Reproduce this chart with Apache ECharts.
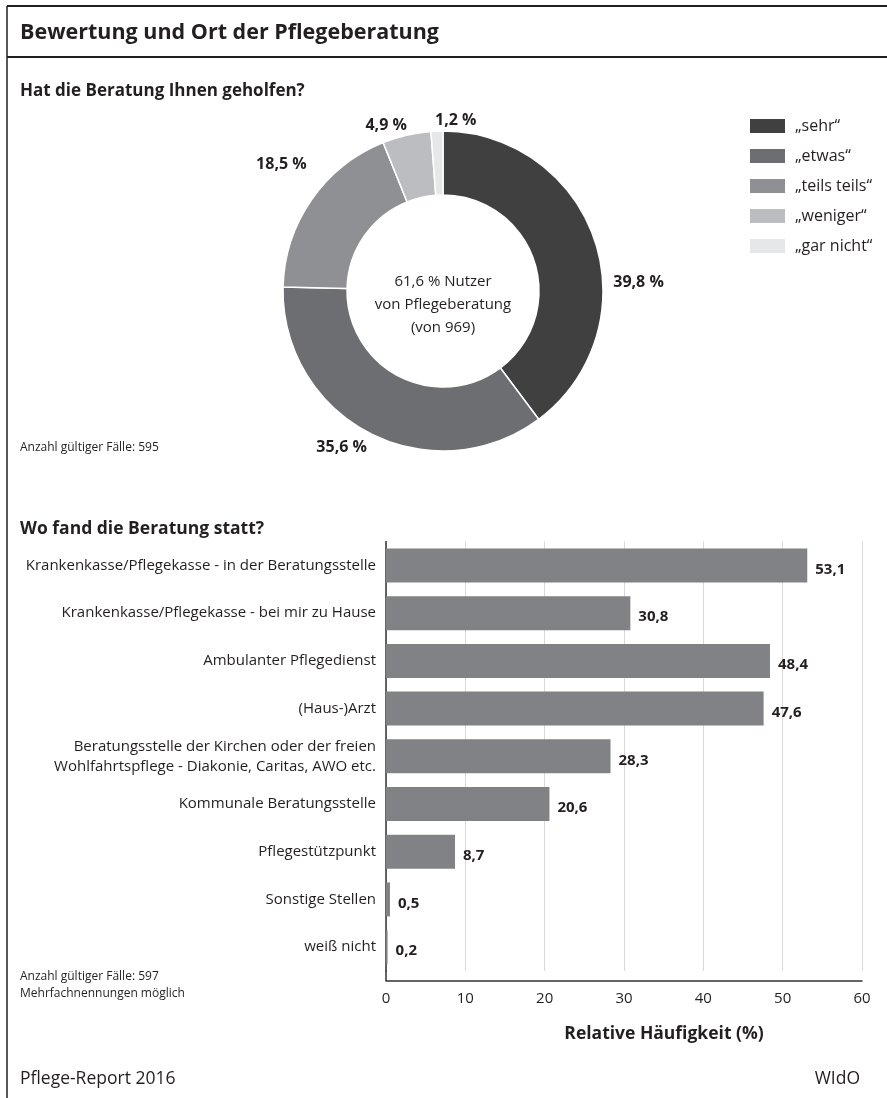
<!DOCTYPE html>
<html>
<head>
<meta charset="utf-8">
<script src="https://cdn.jsdelivr.net/npm/echarts@6/dist/echarts.min.js"></script>
<style>
html,body{margin:0;padding:0;background:#fff;}
#c{width:887px;height:1098px;}
</style>
</head>
<body>
<div id="c"></div>
<script>
// ---- data ----
const pieCategories = ['„sehr“', '„etwas“', '„teils teils“', '„weniger“', '„gar nicht“'];
const pieValues = [39.8, 35.6, 18.5, 4.9, 1.2];
const pieColors = ['#404041', '#6d6e71', '#8f9093', '#bcbdc0', '#e6e7e8'];

const barCategories = [
  'Krankenkasse/Pflegekasse - in der Beratungsstelle',
  'Krankenkasse/Pflegekasse - bei mir zu Hause',
  'Ambulanter Pflegedienst',
  '(Haus-)Arzt',
  'Beratungsstelle der Kirchen oder der freien\nWohlfahrtspflege - Diakonie, Caritas, AWO etc.',
  'Kommunale Beratungsstelle',
  'Pflegestützpunkt',
  'Sonstige Stellen',
  'weiß nicht'
];
const barValues = [53.1, 30.8, 48.4, 47.6, 28.3, 20.6, 8.7, 0.5, 0.2];
const xTicks = [0, 10, 20, 30, 40, 50, 60];

// label nudges for pie labels (styling only)
const pieLabelNudge = [[2, 46], [8, 4], [10, -29], [8, 2], [45, 1]];

const FONT = 'Open Sans';
const TXT = '#231f20';

// bar grid layout
const GRID_LEFT = 386, GRID_RIGHT = 25, GRID_TOP = 541.6, GRID_H = 429.4, AXIS_OFFSET = 10;

const chart = echarts.init(document.getElementById('c'), null, {renderer: 'canvas'});

const fmt = v => String(v).replace('.', ',');
const ttl = (text, opts, style) => Object.assign({text, padding: 0,
  textStyle: Object.assign({fontFamily: FONT, color: TXT, fontWeight: 'normal'}, style)}, opts);

chart.setOption({
  animation: false,
  textStyle: {fontFamily: FONT, color: TXT},
  title: [
    ttl('Bewertung und Ort der Pflegeberatung', {left: 20, top: 19}, {fontSize: 21.5, fontWeight: 'bold', lineHeight: 28}),
    ttl('Hat die Beratung Ihnen geholfen?', {left: 20, top: 80}, {fontSize: 17, fontWeight: 'bold', lineHeight: 22}),
    ttl('Anzahl gültiger Fälle: 595', {left: 20, top: 440}, {fontSize: 12, lineHeight: 16}),
    ttl('Wo fand die Beratung statt?', {left: 20, top: 518}, {fontSize: 17.5, fontWeight: 'bold', lineHeight: 22}),
    ttl('Anzahl gültiger Fälle: 597\nMehrfachnennungen möglich', {left: 20, top: 968}, {fontSize: 12, lineHeight: 17}),
    ttl('Pflege-Report 2016', {left: 20, top: 1068}, {fontSize: 17.5, lineHeight: 22}),
    ttl('WIdO', {right: 27, top: 1068}, {fontSize: 17.5, lineHeight: 22}),
    ttl('61,6 % Nutzer\nvon Pflegeberatung\n(von 969)', {left: 443, top: 270, textAlign: 'center'},
        {fontSize: 15, lineHeight: 23, align: 'center'})
  ],
  graphic: [
    {type: 'line', shape: {x1: 7, y1: 6, x2: 887, y2: 6}, style: {stroke: '#231f20', lineWidth: 1.8}, silent: true},
    {type: 'line', shape: {x1: 7, y1: 57, x2: 887, y2: 57}, style: {stroke: '#231f20', lineWidth: 1.8}, silent: true},
    {type: 'line', shape: {x1: 7, y1: 6, x2: 7, y2: 1098}, style: {stroke: '#231f20', lineWidth: 1.5}, silent: true},
    // y-axis line continued down to the offset x-axis line
    {type: 'line', shape: {x1: GRID_LEFT, y1: GRID_TOP + GRID_H - 1, x2: GRID_LEFT, y2: GRID_TOP + GRID_H + AXIS_OFFSET},
     style: {stroke: '#333', lineWidth: 1.5}, silent: true}
  ],
  legend: {
    orient: 'vertical', left: 748, top: 117, padding: 0,
    itemWidth: 37, itemHeight: 16, itemGap: 12,
    icon: 'rect', selectedMode: false,
    data: pieCategories,
    textStyle: {fontFamily: FONT, fontSize: 16, lineHeight: 16, color: TXT, padding: [0, 0, 0, 4]}
  },
  grid: {left: GRID_LEFT, right: GRID_RIGHT, top: GRID_TOP, height: GRID_H, containLabel: false},
  xAxis: {
    type: 'value', min: 0, max: 60, interval: 10, offset: AXIS_OFFSET,
    axisLine: {show: true, lineStyle: {color: '#333', width: 1.5}},
    axisTick: {show: false},
    splitLine: {show: true, lineStyle: {color: '#d9d9d9', width: 1}},
    axisLabel: {fontFamily: FONT, fontSize: 15, color: TXT, margin: 10,
      formatter: v => xTicks.includes(v) ? String(v) : ''},
    name: 'Relative Häufigkeit (%)', nameLocation: 'middle', nameGap: 44,
    nameTextStyle: {fontFamily: FONT, fontSize: 17.5, fontWeight: 'bold', color: TXT, padding: [0, 0, 0, 80]}
  },
  yAxis: {
    type: 'category', inverse: true, data: barCategories,
    axisLine: {show: true, lineStyle: {color: '#333', width: 1.5}},
    axisTick: {show: false},
    axisLabel: {fontFamily: FONT, fontSize: 15, color: TXT, margin: 10, lineHeight: 20, align: 'right'}
  },
  series: [
    {
      type: 'pie',
      center: [443, 291], radius: [96, 160],
      startAngle: 90, clockwise: true,
      avoidLabelOverlap: false,
      silent: true,
      itemStyle: {borderColor: '#fff', borderWidth: 1.5},
      label: {show: true, position: 'outside', fontFamily: FONT, fontSize: 16, fontWeight: 'bold', color: TXT,
        formatter: p => fmt(p.value) + ' %'},
      labelLine: {show: false, length: 12, length2: 0},
      labelLayout: p => ({dx: pieLabelNudge[p.dataIndex][0], dy: pieLabelNudge[p.dataIndex][1]}),
      data: pieCategories.map((n, i) => ({name: n, value: pieValues[i], itemStyle: {color: pieColors[i]}}))
    },
    {
      type: 'bar',
      data: barValues,
      barWidth: 34,
      silent: true,
      itemStyle: {color: '#818285'},
      label: {show: true, position: 'right', distance: 8, offset: [0, 4],
        fontFamily: FONT, fontSize: 15, fontWeight: 'bold', color: TXT,
        formatter: p => fmt(p.value)}
    }
  ]
});
</script>
</body>
</html>
